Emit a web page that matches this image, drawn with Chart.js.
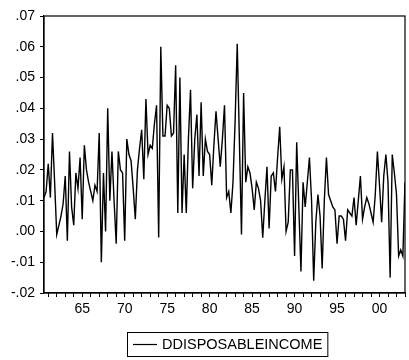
<!DOCTYPE html>
<html>
<head>
<meta charset="utf-8">
<script src="https://cdn.jsdelivr.net/npm/chart.js@4"></script>
<style>
    html, body { margin: 0; padding: 0; background: #fff; }
    #wrap { width: 409px; height: 360px; }
</style>
</head>
<body>
<div id="wrap"><canvas id="income-chart" width="409" height="360"></canvas></div>
<script>
// quarterly series, 1960Q3 .. 2003Q1
const startYear = 1960.5;
const endYear = 2003;
const seriesName = 'DDISPOSABLEINCOME';
const incomeValues = [
    .011, .013, .022, .011, .032, .016, -.001, .002, .005, .009,
    .018, -.003, .026, .008, .002, .019, .014, .024, .004, .028,
    .020, .016, .013, .010, .015, .013, .032, -.010, .019, .000,
    .040, .010, .026, .010, -.004, .026, .020, .019, -.003, .030,
    .025, .023, .014, .004, .020, .027, .033, .017, .043, .025,
    .028, .027, .035, .041, -.002, .060, .031, .031, .041, .040,
    .031, .032, .054, .006, .050, .006, .025, .006, .030, .046,
    .014, .030, .038, .018, .042, .018, .030, .026, .025, .015,
    .028, .039, .030, .021, .030, .041, .011, .013, .006, .016,
    .036, .061, .030, -.001, .045, .016, .021, .019, .014, .007,
    .016, .014, .010, -.002, .010, .021, .001, .018, .019, .013,
    .024, .034, .017, .021, .000, .003, .020, .020, -.008, .029,
    .008, -.013, .016, .008, .016, .024, .010, -.016, .003, .012,
    .005, -.012, .010, .024, .012, .010, .008, .007, -.004, .005,
    .005, .004, -.003, .007, .006, .005, .011, .002, .010, .018,
    .004, .008, .011, .009, .006, .003, .012, .026, .015, .003,
    .018, .025, .016, -.015, .025, .019, .012, -.008, -.006, -.008,
    .016
];
const labeledYears = [1965, 1970, 1975, 1980, 1985, 1990, 1995, 2000];

const quarters = incomeValues.map((v, i) => startYear + i * 0.25);
const points = incomeValues.map((v, i) => ({ x: quarters[i], y: v }));

const font = { family: '"Liberation Sans", Arial, sans-serif', size: 14 };

const frame = {
    id: 'frame',
    afterDraw(chart) {
        const { ctx, chartArea: a } = chart;
        ctx.save();
        ctx.strokeStyle = '#000';
        ctx.lineWidth = 1.2;
        ctx.strokeRect(a.left, a.top, a.right - a.left, a.bottom - a.top);

        // legend box under the axis
        ctx.font = '14.5px "Liberation Sans", Arial, sans-serif';
        const tw = ctx.measureText(seriesName).width;
        const bx = a.left + 83, by = a.bottom + 39, bh = 24;
        const bw = tw + 40;
        ctx.lineWidth = 1;
        ctx.strokeRect(bx + 0.5, by + 0.5, bw, bh);
        ctx.beginPath();
        ctx.lineWidth = 1.2;
        ctx.moveTo(bx + 6, by + bh / 2 + 0.5);
        ctx.lineTo(bx + 30, by + bh / 2 + 0.5);
        ctx.stroke();
        ctx.fillStyle = '#000';
        ctx.textBaseline = 'middle';
        ctx.fillText(seriesName, bx + 35, by + bh / 2 + 1);
        ctx.restore();
    }
};

const ctx = document.getElementById('income-chart').getContext('2d');
new Chart(ctx, {
    type: 'line',
    data: {
        datasets: [{
            label: seriesName,
            data: points,
            borderColor: '#000',
            borderWidth: 1.4,
            pointRadius: 0,
            tension: 0,
            fill: false
        }]
    },
    options: {
        responsive: false,
        animation: false,
        layout: { padding: { top: 16, right: 2, left: 0, bottom: 0 } },
        plugins: {
            legend: { display: false },
            tooltip: { enabled: false }
        },
        scales: {
            x: {
                type: 'linear',
                min: startYear,
                max: endYear,
                afterFit: scale => { scale.height = 67; },
                border: { color: '#000', width: 1.2 },
                grid: { drawOnChartArea: false, tickLength: 4, tickColor: '#000' },
                ticks: {
                    stepSize: 1,
                    includeBounds: false,
                    autoSkip: false,
                    maxRotation: 0,
                    padding: 4,
                    color: '#000',
                    font: font,
                    callback: v => labeledYears.includes(v) ? String(v % 100).padStart(2, '0') : ''
                }
            },
            y: {
                min: -0.02,
                max: 0.07,
                afterFit: scale => { scale.width = 44; },
                border: { color: '#000', width: 1.2 },
                grid: { drawOnChartArea: false, tickLength: 4, tickColor: '#000' },
                ticks: {
                    stepSize: 0.01,
                    padding: 5,
                    color: '#000',
                    font: font,
                    callback: v => {
                        const s = (Math.round(v * 100) / 100).toFixed(2);
                        return s.replace('0.', '.');
                    }
                }
            }
        }
    },
    plugins: [frame]
});
</script>
</body>
</html>
